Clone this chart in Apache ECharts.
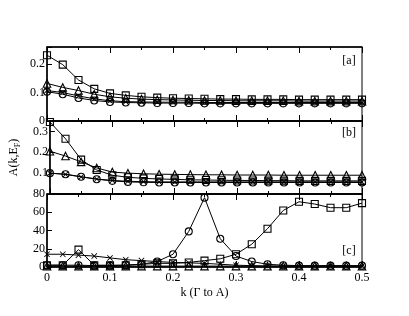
<!DOCTYPE html>
<html><head><meta charset="utf-8">
<script src="https://cdn.jsdelivr.net/npm/echarts@6/dist/echarts.min.js"></script>
<style>html,body{margin:0;padding:0;background:#fff}#c{width:409px;height:316px}</style>
</head><body><div id="c"></div>
<script>
const kValues = [0,0.025,0.05,0.075,0.1,0.125,0.15,0.175,0.2,0.225,0.25,0.275,0.3,0.325,0.35,0.375,0.4,0.425,0.45,0.475,0.5];

// Panel [a]
const aSquares   = [0.231,0.198,0.144,0.113,0.097,0.090,0.085,0.082,0.080,0.079,0.078,0.077,0.077,0.076,0.076,0.076,0.075,0.075,0.075,0.075,0.075];
const aTriangles = [0.132,0.118,0.107,0.094,0.085,0.080,0.077,0.075,0.074,0.073,0.072,0.072,0.071,0.071,0.071,0.071,0.070,0.070,0.070,0.070,0.070];
const aCircles   = [0.103,0.094,0.081,0.072,0.067,0.065,0.064,0.063,0.063,0.063,0.062,0.062,0.062,0.062,0.062,0.062,0.062,0.062,0.062,0.062,0.062];
const aCrosses   = [0.107,0.100,0.088,0.078,0.071,0.068,0.067,0.066,0.066,0.066,0.065,0.065,0.065,0.065,0.065,0.065,0.065,0.065,0.065,0.065,0.065];

// Panel [b]
const bSquares   = [0.345,0.265,0.165,0.115,0.090,0.080,0.075,0.072,0.070,0.068,0.067,0.066,0.065,0.065,0.064,0.064,0.063,0.063,0.063,0.063,0.063];
const bTriangles = [0.205,0.182,0.154,0.125,0.105,0.100,0.097,0.095,0.094,0.093,0.092,0.092,0.091,0.091,0.091,0.090,0.090,0.090,0.090,0.090,0.090];
const bCircles   = [0.100,0.095,0.083,0.071,0.063,0.058,0.056,0.055,0.055,0.055,0.055,0.055,0.055,0.055,0.055,0.055,0.055,0.055,0.055,0.055,0.055];
const bCrosses   = [0.100,0.094,0.082,0.072,0.065,0.061,0.059,0.058,0.058,0.058,0.058,0.058,0.058,0.058,0.058,0.058,0.058,0.058,0.058,0.058,0.058];

// Panel [c]
const cSquares   = [2,2,19,2,2,2,3,4,4,5,7,9,14,25,42,62,71.5,69,65,65,70];
const cCircles   = [2,2,2,1.5,1.5,2,3,6,14,39,76,31,12,6,3,2,1.5,1.5,1.5,1.5,1.5];
const cCrosses   = [14,14,13,12,10,8,7,6,5,4.5,4,3,2,1.5,1,1,1,1,1,1,1];
const cTriangles = [1,1,1,1,1,1,1,1,1,1,1,1,1,1,1,1,1,1,1,1,1];

const yTicksA = [0,0.1,0.2];
const yTicksB = [0.1,0.2,0.3];
const yTicksC = [0,20,40,60,80];
const panelLabels = ['[a]','[b]','[c]'];

const FONT = 'Liberation Serif';
const L = 47, W = 315;
const grids = [
  {left:L, width:W, top:47, height:74},
  {left:L, width:W, top:121, height:73},
  {left:L, width:W, top:194, height:73}
].map(g => Object.assign(g, {show:true, borderColor:'#000', borderWidth:1, backgroundColor:'transparent'}));

function xAx(gi, pos, labels, extra) {
  return Object.assign({
    type:'value', gridIndex:gi, position:pos, min:0, max:0.5, interval:0.1,
    axisLine:{show:true, lineStyle:{color:'#000', width:1.5}},
    axisTick:{show:true, inside:true, length:6, lineStyle:{color:'#000', width:1}},
    minorTick:{show:true, splitNumber:2, length:3, lineStyle:{color:'#000', width:1}},
    splitLine:{show:false},
    axisLabel:{show:labels, color:'#000', fontFamily:FONT, fontSize:12, margin:5,
      formatter: v => (Math.round(v*10)/10).toString()}
  }, extra||{});
}
const xAxes = [
  xAx(0,'bottom',false), xAx(0,'top',false),
  xAx(1,'bottom',false), xAx(1,'top',false),
  xAx(2,'bottom',true,{name:'k (\u0393 to A)', nameLocation:'middle', nameGap:20,
     nameTextStyle:{color:'#000', fontFamily:FONT, fontSize:12}}), xAx(2,'top',false)
];
function yAx(gi, min, max, interval, ticks, extra) {
  return Object.assign({
    type:'value', gridIndex:gi, min:min, max:max, interval:interval,
    axisLine:{show:true, lineStyle:{color:'#000', width:1.5}},
    axisTick:{show:true, inside:true, length:5, lineStyle:{color:'#000', width:1}},
    splitLine:{show:false},
    axisLabel:{show:true, color:'#000', fontFamily:FONT, fontSize:12, margin:2,
      formatter: v => { const hit = ticks.find(t => Math.abs(t - v) < 1e-9); return hit === undefined ? '' : String(hit); } }
  }, extra||{});
}
const yAxes = [
  yAx(0, 0, 0.26, 0.1, yTicksA),
  yAx(1, 0, 0.35, 0.1, yTicksB, {name:'{a|A(k,E}{s|F}{a|)}', nameLocation:'middle', nameGap:26, nameRotate:90,
     nameTextStyle:{rich:{a:{color:'#000', fontFamily:FONT, fontSize:12}, s:{color:'#000', fontFamily:FONT, fontSize:8, padding:[8,0,0,0]}}}}),
  yAx(2, 0, 80, 20, yTicksC)
];

const crossPath = 'path://M0,1L1,0L5,4L9,0L10,1L6,5L10,9L9,10L5,6L1,10L0,9L4,5Z';
function ser(gi, data, shape) {
  let sym, size, style;
  if (shape === 'cross') { sym = crossPath; size = 6; style = {color:'#000', borderWidth:0}; }
  else {
    sym = shape === 'square' ? 'rect' : shape;
    size = shape === 'triangle' ? 7.5 : 7;
    style = {color:'rgba(255,255,255,0)', borderColor:'#000', borderWidth:1.1};
  }
  return {
    type:'line', xAxisIndex:gi*2, yAxisIndex:gi,
    data: kValues.map((k,i) => [k, data[i]]),
    symbol:sym, symbolSize:size, showSymbol:true,
    lineStyle:{color:'#000', width:1}, itemStyle:style, animation:false, silent:true, z:3
  };
}
const series = [
  ser(0,aCrosses,'cross'), ser(0,aCircles,'circle'), ser(0,aTriangles,'triangle'), ser(0,aSquares,'square'),
  ser(1,bCrosses,'cross'), ser(1,bCircles,'circle'), ser(1,bSquares,'square'), ser(1,bTriangles,'triangle'),
  ser(2,cTriangles,'triangle'), ser(2,cCrosses,'cross'), ser(2,cSquares,'square'), ser(2,cCircles,'circle')
];

const labelPos = [[349,61],[349,133],[349,251]];
const graphic = panelLabels.map((t,i) => ({
  type:'text', x:labelPos[i][0], y:labelPos[i][1], z:10,
  style:{text:t, fill:'#000', font:'12px "Liberation Serif"', align:'center', verticalAlign:'middle'}
}));

const chart = echarts.init(document.getElementById('c'), null, {renderer:'canvas'});
chart.setOption({
  backgroundColor:'#fff', animation:false,
  grid:grids, xAxis:xAxes, yAxis:yAxes, series:series, graphic:graphic
});
</script></body></html>
